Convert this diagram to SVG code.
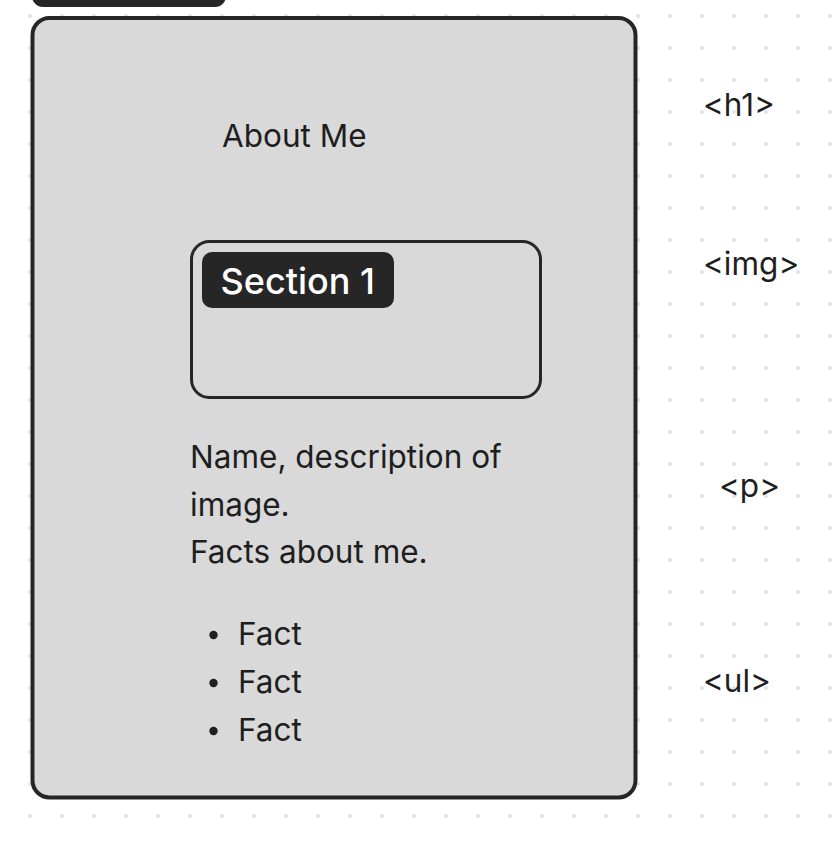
<svg xmlns="http://www.w3.org/2000/svg" width="840" height="844" viewBox="0 0 840 844">
  <defs>
    <pattern id="dots" patternUnits="userSpaceOnUse" x="14" y="0" width="32" height="32">
      <circle cx="16" cy="16" r="1.9" fill="#e3e3e3"/>
    </pattern>
    <style>
      .t { font-family: Inter, "Noto Sans", "Liberation Sans", sans-serif; fill: #1e1e1e; font-size: 31.5px; }
      .frame { fill: #d9d9d9; stroke: #262626; }
      .dark { fill: #262626; }
    </style>
  </defs>
  <rect width="840" height="844" fill="#ffffff"/>
  <rect width="840" height="844" fill="url(#dots)"/>

  <g id="tab">
    <rect class="dark" x="32" y="-30" width="194" height="37" rx="11"/>
  </g>

  <g id="page">
    <rect class="frame" x="32.5" y="18" width="603" height="779.5" rx="17" stroke-width="4"/>
  </g>

  <g id="heading">
    <text class="t" x="222" y="147">About Me</text>
  </g>

  <g id="image-box">
    <rect class="frame" x="191.5" y="241.5" width="349" height="156" rx="18" stroke-width="3"/>
  </g>

  <g id="section-badge">
    <rect class="dark" x="202" y="252" width="192" height="56" rx="10"/>
    <text class="t" x="220.5" y="293.5" style="fill:#ffffff;font-size:36px;font-weight:500">Section 1</text>
  </g>

  <g id="paragraph">
    <text class="t" x="190" y="467.5">Name, description of</text>
    <text class="t" x="190" y="515.5">image.</text>
    <text class="t" x="190" y="563">Facts about me.</text>
  </g>

  <g id="list">
    <circle cx="213.5" cy="635" r="4.2" fill="#1e1e1e"/>
    <text class="t" x="238" y="644.5">Fact</text>
    <circle cx="213.5" cy="683" r="4.2" fill="#1e1e1e"/>
    <text class="t" x="238" y="692.5">Fact</text>
    <circle cx="213.5" cy="731" r="4.2" fill="#1e1e1e"/>
    <text class="t" x="238" y="740.5">Fact</text>
  </g>

  <g id="labels">
    <text class="t" x="703" y="115.5">&lt;h1&gt;</text>
    <text class="t" x="703" y="274.5">&lt;img&gt;</text>
    <text class="t" x="719" y="496.5">&lt;p&gt;</text>
    <text class="t" x="703" y="691.5">&lt;ul&gt;</text>
  </g>

  <g id="connectors"/>
</svg>
